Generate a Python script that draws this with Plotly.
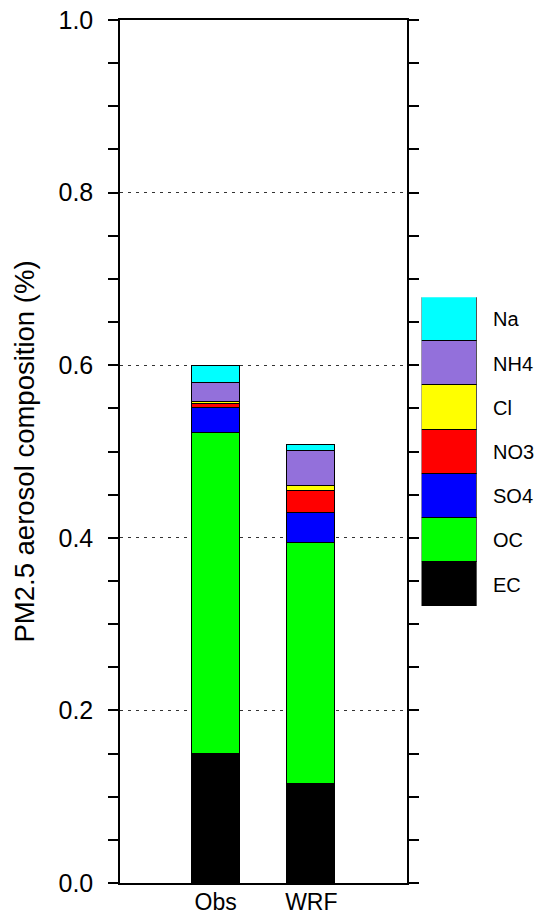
import plotly.graph_objects as go

categories = ["Obs", "WRF"]
species = ["EC", "OC", "SO4", "NO3", "Cl", "NH4", "Na"]
colors = ["#000000", "#00FF00", "#0000FF", "#FF0000", "#FFFF00", "#9370DB", "#00FFFF"]
values = {
    "EC":  [0.150, 0.115],
    "OC":  [0.3715, 0.279],
    "SO4": [0.0294, 0.035],
    "NO3": [0.0038, 0.0255],
    "Cl":  [0.0032, 0.005],
    "NH4": [0.022, 0.041],
    "Na":  [0.0192, 0.0065],
}
ytick_vals = [0.0, 0.2, 0.4, 0.6, 0.8, 1.0]
ytick_text = ["0.0", "0.2", "0.4", "0.6", "0.8", "1.0"]

FONT = "Liberation Sans, Arial, Helvetica, sans-serif"

fig = go.Figure()
for name, col in zip(species, colors):
    fig.add_trace(go.Bar(
        x=categories, y=values[name], name=name, width=0.5,
        marker=dict(color=col, line=dict(color="black", width=1)),
        xaxis="x", yaxis="y", showlegend=False,
    ))
# legend key drawn as a stacked bar of equal blocks
for name, col in zip(species, colors):
    fig.add_trace(go.Bar(
        x=[0], y=[1], name=name, width=1,
        marker=dict(color=col, line=dict(color="black", width=1)),
        xaxis="x2", yaxis="y2", showlegend=False,
    ))

annotations = []
for i, name in enumerate(species):
    annotations.append(dict(
        x=0.888, xref="paper", y=i + 0.5, yref="y2", text=name,
        showarrow=False, xanchor="left", yanchor="middle",
        font=dict(family=FONT, size=20, color="black"),
    ))

fig.update_layout(
    width=538, height=916,
    margin=dict(l=120, r=0, t=20, b=33),
    paper_bgcolor="white", plot_bgcolor="white",
    barmode="stack", bargap=0,
    font=dict(family=FONT, color="black"),
    annotations=annotations,
    xaxis=dict(
        domain=[0, 0.6866], type="category", range=[-1, 2],
        showline=True, linecolor="black", linewidth=1.5, mirror=True,
        ticks="", showgrid=False, zeroline=False, automargin=False,
        tickfont=dict(family=FONT, size=23, color="black"),
        ticklabelstandoff=-2,
    ),
    yaxis=dict(
        range=[0, 1], anchor="x", automargin=False,
        tickvals=ytick_vals, ticktext=ytick_text,
        showline=True, linecolor="black", linewidth=1.5, mirror="ticks",
        ticks="outside", ticklen=10, tickwidth=1.5, tickcolor="black",
        tickfont=dict(family=FONT, size=25, color="black"),
        ticklabelstandoff=10,
        showgrid=True, gridcolor="#333333", gridwidth=1, griddash="3px,5px",
        zeroline=False,
        minor=dict(dtick=0.05, ticks="outside", ticklen=10, tickwidth=1.5,
                   tickcolor="black", showgrid=False),
        title=dict(text="PM2.5 aerosol composition (%)",
                   font=dict(family=FONT, size=27.5, color="black"), standoff=16),
    ),
    xaxis2=dict(domain=[0.7218, 0.8533], anchor="y2", range=[-0.5, 0.5],
                visible=False, fixedrange=True),
    yaxis2=dict(domain=[0.3202, 0.6787], anchor="x2", range=[0, 7],
                visible=False, fixedrange=True),
)

fig.write_html("out.html")
